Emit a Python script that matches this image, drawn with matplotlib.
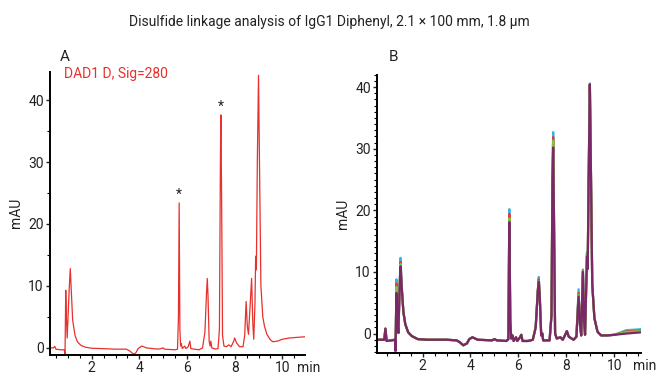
import numpy as np
import matplotlib
matplotlib.use("Agg")
from matplotlib import pyplot as plt
from matplotlib.ticker import MultipleLocator

plt.rcParams['font.family'] = ['Roboto', 'DejaVu Sans']

# panel A: single DAD trace, (time in min, mAU)
a_time = [0.25, 0.40, 0.45, 0.50, 0.70, 0.85, 0.88, 0.895, 0.91, 0.935, 0.97,
          1.05, 1.10, 1.14, 1.20, 1.30, 1.40, 1.55, 1.75, 2.0, 3.0, 3.45, 3.6,
          3.75, 3.85, 3.95, 4.1, 4.3, 4.8, 5.0, 5.05, 5.5, 5.6, 5.64, 5.67, 5.70,
          5.73, 5.76, 5.8, 5.9, 5.95, 6.05, 6.12, 6.16, 6.3, 6.5, 6.65, 6.75,
          6.82, 6.85, 6.88, 6.93, 6.97, 7.0, 7.04, 7.2, 7.3, 7.36, 7.40, 7.42,
          7.45, 7.49, 7.55, 7.65, 7.75, 7.85, 7.95, 8.0, 8.08, 8.2, 8.35, 8.42,
          8.48, 8.53, 8.58, 8.65, 8.71, 8.76, 8.80, 8.85, 8.88, 8.91, 8.95, 9.0,
          9.04, 9.1, 9.18, 9.25, 9.35, 9.5, 9.6, 9.8, 10.0, 10.3, 10.6, 10.95]
a_mau = [0.0, 0.0, 0.25, -0.2, -0.3, -0.3, -1.0, 4.0, 9.3, 5.3, 1.6,
         9.0, 12.8, 9.5, 4.5, 2.0, 1.0, 0.4, 0.1, -0.05, -0.2, -0.2, -0.5,
         -1.0, -0.8, -0.1, 0.3, 0.0, -0.2, 0.0, -0.2, -0.3, -0.2, 5.0, 23.4, 3.0,
         0.3, 0.7, -0.1, 0.3, -0.1, 0.2, 1.1, -0.1, -0.2, -0.3, 0.0, 2.5,
         9.0, 11.2, 8.5, 1.0, 0.3, 1.1, 0.0, -0.2, -0.1, 3.0, 30.0, 37.6,
         25.0, 2.0, 0.3, 0.2, 0.5, 0.2, 1.0, 1.6, 0.8, 0.2, 0.2, 2.0,
         7.5, 3.5, 2.2, 7.0, 11.2, 4.0, 1.4, 7.0, 14.8, 12.6, 30.0, 44.0,
         30.0, 10.0, 5.0, 3.5, 2.2, 1.3, 1.0, 1.1, 1.4, 1.6, 1.7, 1.8]
star_time = [5.67, 7.42]
star_mau = [23.4, 37.6]

# panel B: overlaid replicate traces, purple drawn on top
b_time = [0.10, 0.40, 0.45, 0.50, 0.70, 0.85, 0.87, 0.89, 0.91, 0.94, 0.99,
          1.04, 1.08, 1.13, 1.20, 1.28, 1.4, 1.55, 1.8, 2.2, 3.0, 3.42, 3.55,
          3.7, 3.85, 3.95, 4.08, 4.3, 4.9, 5.0, 5.1, 5.5, 5.58, 5.62, 5.66, 5.70,
          5.75, 5.8, 5.9, 5.95, 6.05, 6.12, 6.17, 6.4, 6.6, 6.72, 6.81, 6.85,
          6.89, 6.95, 7.0, 7.03, 7.3, 7.38, 7.42, 7.45, 7.48, 7.53, 7.6, 7.75,
          7.85, 7.95, 8.02, 8.1, 8.3, 8.42, 8.51, 8.57, 8.62, 8.69, 8.74, 8.78,
          8.86, 8.89, 8.93, 8.98, 9.02, 9.08, 9.17, 9.3, 9.45, 9.7, 10.0, 10.5, 11.1]
b_purple = [-1.0, -1.0, 0.8, -1.2, -1.1, -1.0, -2.8, 2.0, 6.6, 3.0, 0.1,
            7.0, 10.9, 7.5, 3.5, 1.5, 0.2, -0.4, -0.9, -1.0, -1.0, -1.1, -1.4,
            -1.9, -1.6, -0.9, -0.6, -1.0, -1.1, -0.9, -1.1, -1.2, -0.9, 18.1, 2.0, -0.8,
            -0.3, -1.2, -0.6, -1.2, -0.7, -0.2, -1.2, -1.2, -1.0, 1.0, 7.0, 8.4,
            6.0, -0.3, 0.0, -1.1, -1.1, 3.0, 25.0, 30.2, 20.0, 0.0, -0.8, -0.6,
            -1.0, -0.2, 0.4, -0.5, -1.0, -0.5, 6.0, 1.5, -0.3, 10.0, 2.0, -0.2,
            12.5, 10.5, 25.0, 40.4, 28.0, 8.0, 2.5, 0.3, -0.3, -0.3, -0.2, 0.0, 0.2]
b_apex_time = [0.91, 1.08, 5.62, 6.85, 7.45, 8.51, 8.69, 8.86, 8.98]
cyan_apex = [8.8, 12.3, 20.2, 9.2, 32.7, 7.2, 10.4, 13.2, 40.6]
red_apex = [8.1, 11.6, 19.4, 8.8, 31.9, 6.6, 10.2, 12.9, 40.5]
green_apex = [7.6, 11.3, 18.7, 8.5, 31.3, 6.3, 10.1, 12.7, 40.4]
tail_end = {"cyan": 0.7, "red": 0.5, "green": 0.4}

red = "#e8302c"
b_colors = {"cyan": "#35b3e8", "red": "#e8382f", "green": "#7cc243", "purple": "#7a2868"}

fig = plt.figure(figsize=(6.58, 3.74), dpi=100)
axA = fig.add_axes([0.076, 0.052, 0.3875, 0.755])
axB = fig.add_axes([0.573, 0.057, 0.401, 0.743])

fig.text(0.5, 0.94, "Disulfide linkage analysis of IgG1 Diphenyl, 2.1 \u00d7 100 mm, 1.8 \u00b5m",
         ha="center", va="center", fontsize=10, color="#222222")

def style(ax, ymin, ymax, xmin, xmax, yminor):
    ax.set_xlim(xmin, xmax)
    ax.set_ylim(ymin, ymax)
    for s in ["top", "right"]:
        ax.spines[s].set_visible(False)
    for s in ["left", "bottom"]:
        ax.spines[s].set_linewidth(1.4)
    ax.xaxis.set_major_locator(MultipleLocator(2))
    ax.xaxis.set_minor_locator(MultipleLocator(0.5))
    ax.yaxis.set_major_locator(MultipleLocator(10))
    ax.yaxis.set_minor_locator(MultipleLocator(yminor))
    ax.tick_params(which="major", length=3, width=1, labelsize=10, pad=1.5, colors="#222222")
    ax.tick_params(which="minor", length=2, width=0.8)
    ax.set_ylabel("mAU", fontsize=10, labelpad=4, color="#222222")
    ax.annotate("min", xy=(0.97, 0), xycoords="axes fraction", xytext=(0, -4.5),
                textcoords="offset points", ha="left", va="top", fontsize=10, color="#222222")

# panel A
axA.plot(a_time, a_mau, color=red, lw=0.9)
for t, v in zip(star_time, star_mau):
    axA.annotate("*", xy=(t, v), xytext=(0, 1), textcoords="offset points",
                 ha="center", va="bottom", fontsize=10, color="#222222")
style(axA, -1.07, 44.5, 0.25, 10.95, 5)
axA.text(0.055, 1.02, "DAD1 D, Sig=280", transform=axA.transAxes, color=red,
         fontsize=10, ha="left", va="top")
fig.text(65 / 658, 1 - 57 / 374, "A", fontsize=11, ha="center", va="center", color="#222222")

# panel B
for name, apex in [("cyan", cyan_apex), ("red", red_apex), ("green", green_apex)]:
    vals = list(b_purple)
    for t, h in zip(b_apex_time, apex):
        vals[b_time.index(t)] = h
    vals[-1] = tail_end[name]
    vals[-2] = tail_end[name] - 0.15
    axB.plot(b_time, vals, color=b_colors[name], lw=1.6)
axB.plot(b_time, b_purple, color=b_colors["purple"], lw=1.6)
style(axB, -3.1, 42, 0.1, 11.11, 1)
fig.text(393 / 658, 1 - 57 / 374, "B", fontsize=11, ha="center", va="center", color="#222222")

fig.savefig("out.png", dpi=100)
